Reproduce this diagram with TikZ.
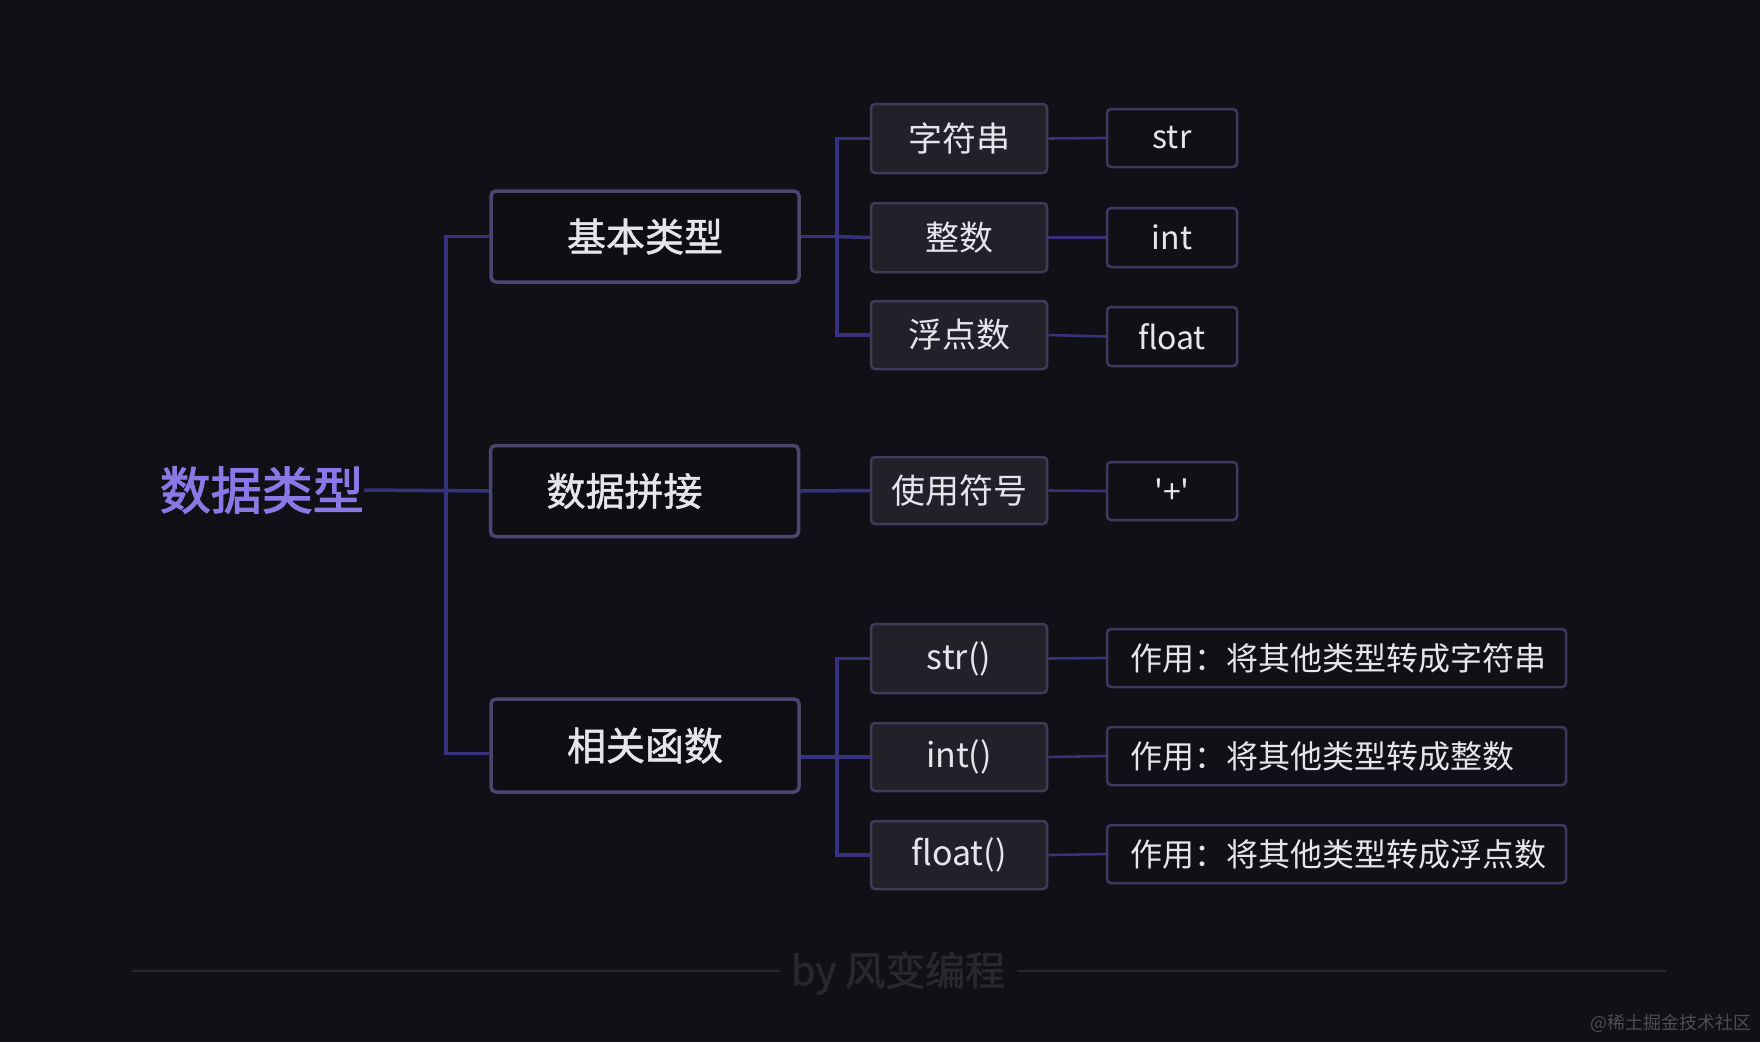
\documentclass[tikz,border=0pt]{standalone}
\usepackage{fontspec}
\setmainfont{Noto Sans CJK SC}
\newfontfamily\plainfont{Noto Sans CJK SC}
\newfontfamily\medfont{Noto Sans CJK SC}[FakeBold=1.2]
\newfontfamily\titlefont{Noto Sans CJK SC}[FakeBold=2]
\usetikzlibrary{calc}
\definecolor{bg}{HTML}{111016}
\definecolor{conn}{HTML}{38317C}
\definecolor{titlec}{HTML}{8A78E6}
\definecolor{lonefill}{HTML}{0F0E13}
\definecolor{loneline}{HTML}{4B4670}
\definecolor{ltwofill}{HTML}{22212A}
\definecolor{ltwoline}{HTML}{403B58}
\definecolor{lthreeline}{HTML}{3D3960}
\definecolor{txt}{HTML}{E6E6EA}
\definecolor{foot}{HTML}{29282F}
\definecolor{wmark}{HTML}{4D4D53}
\tikzset{
  lone/.style={draw=loneline, fill=lonefill, line width=3.5pt, rounded corners=5pt,
    minimum width=308pt, minimum height=91pt, inner sep=0pt, text=txt,
    font=\medfont\fontsize{39}{47}\selectfont},
  ltwo/.style={draw=ltwoline, fill=ltwofill, line width=2.5pt, rounded corners=4pt,
    minimum width=176pt, minimum height=68pt, inner sep=0pt, text=txt,
    font=\plainfont\fontsize{34}{40}\selectfont},
  lthree/.style={draw=lthreeline, fill=bg, line width=2.5pt, rounded corners=4pt,
    minimum width=130pt, minimum height=58pt, inner sep=0pt, text=txt,
    font=\plainfont\fontsize{32}{38}\selectfont},
  lfour/.style={lthree, minimum width=459pt, text width=413pt, align=left, inner xsep=23pt},
  link/.style={draw=conn, line width=3.5pt},
  thinlink/.style={draw=conn, line width=2.6pt},
}
\begin{document}
\begin{tikzpicture}[x=1pt,y=-1pt]
\fill[bg] (0,0) rectangle (1760,1042);
\useasboundingbox (0,0) rectangle (1760,1042);

% title
\node[text=titlec, font=\titlefont\fontsize{51}{60}\selectfont, anchor=east, inner sep=0pt] (title) at (364,490) {数据类型};

% level 1
\node[lone] (jb) at (645,236.5) {基本类型};
\node[lone] (sj) at (644.5,491) {数据拼接\hspace*{40pt}};
\node[lone, minimum height=93pt] (xg) at (645,745.5) {相关函数};

% level 2
\node[ltwo, minimum height=69pt] (a1) at (959,138.5) {字符串};
\node[ltwo, minimum height=69pt] (a2) at (959,237.5) {整数};
\node[ltwo] (a3) at (959,335) {浮点数};
\node[ltwo, minimum height=67pt] (b1) at (959,490.5) {使用符号};
\node[ltwo, minimum height=69pt] (c1) at (959,658.5) {str()};
\node[ltwo] (c2) at (959,757) {int()};
\node[ltwo] (c3) at (959,855) {float()};

% level 3
\node[lthree] (d1) at (1172,138) {str};
\node[lthree, minimum height=59pt] (d2) at (1172,237.5) {int};
\node[lthree, minimum height=59pt] (d3) at (1172,336.5) {float};
\node[lthree] (e1) at (1172,491) {'+'};
\node[lfour] (f1) at (1336.5,658) {作用：将其他类型转成字符串};
\node[lfour] (f2) at (1336.5,756) {作用：将其他类型转成整数};
\node[lfour] (f3) at (1336.5,854) {作用：将其他类型转成浮点数};

% trunk
\coordinate (tx) at (446,0);
\draw[link] (title.east) -- (sj.west);
\draw[link] (jb.west) -- (jb.west -| tx) -- ($(xg.west -| tx)+(0,8)$) -- ($(xg.west)+(0,8)$);

% bracket 1
\coordinate (bx) at (837,0);
\draw[link] (jb.east) -- (jb.east -| bx);
\draw[link] (a1.west) -- (a1.west -| bx) -- (a3.west -| bx) -- (a3.west);
\draw[link] (jb.east -| bx) -- (a2.west);
% row 2
\draw[link] (sj.east) -- (b1.west);
% bracket 3
\draw[link] (xg.east |- c2.west) -- (c2.west);
\draw[link] (c1.west) -- (c1.west -| bx) -- (c3.west -| bx) -- (c3.west);

% level 2 to 3
\draw[thinlink] (a1.east) -- (d1.west);
\draw[thinlink] (a2.east) -- (d2.west);
\draw[thinlink] (a3.east) -- (d3.west);
\draw[thinlink] (b1.east) -- (e1.west);
\draw[thinlink] (c1.east) -- (f1.west);
\draw[thinlink] (c2.east) -- (f2.west);
\draw[thinlink] (c3.east) -- (f3.west);

% footer
\node[text=foot, font=\medfont\fontsize{40}{48}\selectfont, inner sep=0pt] (ft) at (898,973) {by 风变编程};
\coordinate (fl) at (132,971);
\coordinate (fr) at (1666,971);
\draw[foot, line width=2pt] (fl) -- ($(fl -| ft.west)+(-11,0)$);
\draw[foot, line width=2pt] ($(fr -| ft.east)+(12,0)$) -- (fr);

\node[text=wmark, font=\plainfont\fontsize{18}{20}\selectfont, anchor=east, inner sep=0pt] (wm) at (1752,1023) {@稀土掘金技术社区};
\end{tikzpicture}
\end{document}
